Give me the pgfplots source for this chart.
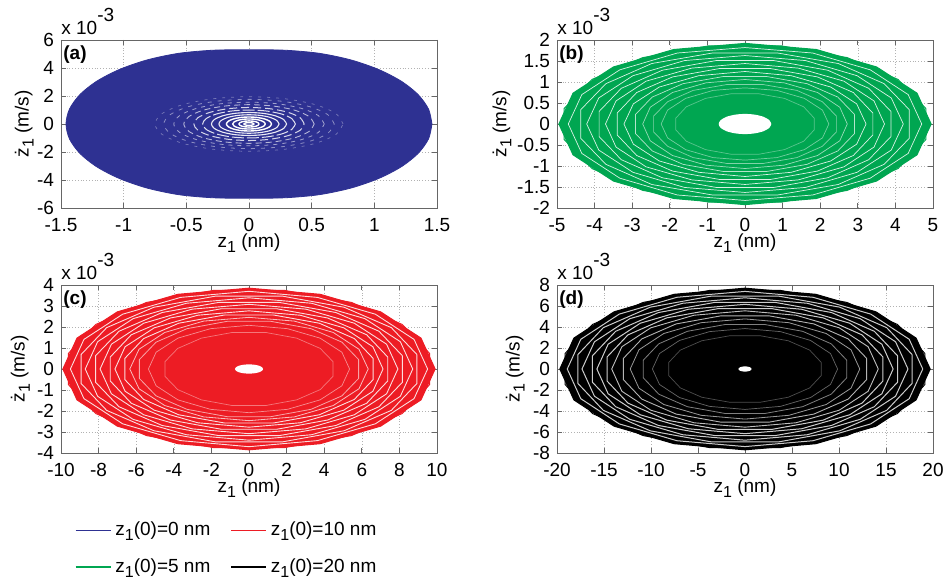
\documentclass[border=0pt]{standalone}
\usepackage{fontspec}
\setmainfont{Liberation Sans}
\usepackage{pgfplots}
\pgfplotsset{compat=1.18}
\definecolor{cblue}{RGB}{46,49,146}
\definecolor{cgreen}{RGB}{0,166,81}
\definecolor{cred}{RGB}{237,28,36}
\newcommand{\sone}{\raisebox{-0.5ex}{\footnotesize 1}}
\newcommand{\zsub}{z\sone}
\newcommand{\zdot}{ż\sone}
\newcommand{\fs}{\fontsize{9.5}{11}\selectfont}
\pgfplotsset{
  panel/.style={
    width=188pt, height=84pt, scale only axis,
    anchor=south west,
    tick align=inside,
    major tick length=2.5pt,
    grid=major,
    major grid style={densely dotted, black!30, line width=0.3pt},
    axis line style={black!60, line width=0.4pt},
    every tick/.style={black!60, line width=0.4pt},
    tick label style={font=\fs},
    xticklabel style={yshift=-1.5pt},
    label style={font=\fs},
    /pgf/number format/assume math mode=true,
    /pgf/number format/fixed,
    xlabel={\zsub\ (nm)},
    ylabel={\zdot\ (m/s)},
    xlabel style={at={(rel axis cs:0.5,-0.15)}, anchor=north, inner sep=0pt},
    ylabel style={anchor=south, inner sep=0pt},
  },
  wr/.style={draw=white, line width=0.35pt, opacity=0.85, forget plot, mark=none},
  hole/.style={draw=none, fill=white, forget plot, smooth, mark=none},
}
\begin{document}
\begin{tikzpicture}
\useasboundingbox (0,0) rectangle (473.5pt,292pt);
% ---------------- (a)
\begin{axis}[panel, name=pa, at={(30.5pt,188pt)},
  ylabel style={at={(rel axis cs:-0.072,0.5)}},
  xmin=-1.5, xmax=1.5, ymin=-6, ymax=6,
  xtick={-1.5,-1,-0.5,0,0.5,1,1.5}, ytick={-6,-4,-2,0,2,4,6}]
\addplot[draw=cblue, fill=cblue, smooth, forget plot, line width=0.4pt] coordinates {(1.46,0)(1.432,1.07)(1.349,2.10)(1.214,3.06)(1.032,3.90)(0.811,4.58)(0.559,5.05)(0.285,5.27)(0,5.3)(-0.285,5.27)(-0.559,5.05)(-0.811,4.58)(-1.032,3.90)(-1.214,3.06)(-1.349,2.10)(-1.432,1.07)(-1.46,0)(-1.432,-1.07)(-1.349,-2.10)(-1.214,-3.06)(-1.032,-3.90)(-0.811,-4.58)(-0.559,-5.05)(-0.285,-5.27)(0,-5.3)(0.285,-5.27)(0.559,-5.05)(0.811,-4.58)(1.032,-3.90)(1.214,-3.06)(1.349,-2.10)(1.432,-1.07)(1.46,0)};
\addplot[wr, smooth, line width=0.7pt, opacity=1] coordinates {(0.04,0)(0.037,0.038)(0.028,0.071)(0.015,0.092)(0,0.10)(-0.015,0.092)(-0.028,0.071)(-0.037,0.038)(-0.04,0)(-0.037,-0.038)(-0.028,-0.071)(-0.015,-0.092)(0,-0.10)(0.015,-0.092)(0.028,-0.071)(0.037,-0.038)(0.04,0)};
\addplot[wr, smooth, line width=0.7pt, opacity=1] coordinates {(0.08,0)(0.074,0.084)(0.057,0.156)(0.031,0.203)(0,0.22)(-0.031,0.203)(-0.057,0.156)(-0.074,0.084)(-0.08,0)(-0.074,-0.084)(-0.057,-0.156)(-0.031,-0.203)(0,-0.22)(0.031,-0.203)(0.057,-0.156)(0.074,-0.084)(0.08,0)};
\addplot[wr, smooth, line width=0.7pt, opacity=1] coordinates {(0.13,0)(0.12,0.138)(0.092,0.255)(0.05,0.333)(0,0.36)(-0.05,0.333)(-0.092,0.255)(-0.12,0.138)(-0.13,0)(-0.12,-0.138)(-0.092,-0.255)(-0.05,-0.333)(0,-0.36)(0.05,-0.333)(0.092,-0.255)(0.12,-0.138)(0.13,0)};
\addplot[wr, smooth, line width=0.7pt, opacity=1] coordinates {(0.18,0)(0.166,0.191)(0.127,0.354)(0.069,0.462)(0,0.5)(-0.069,0.462)(-0.127,0.354)(-0.166,0.191)(-0.18,0)(-0.166,-0.191)(-0.127,-0.354)(-0.069,-0.462)(0,-0.5)(0.069,-0.462)(0.127,-0.354)(0.166,-0.191)(0.18,0)};
\addplot[wr, smooth, line width=0.55pt, opacity=0.9] coordinates {(0.24,0)(0.222,0.253)(0.17,0.467)(0.092,0.61)(0,0.66)(-0.092,0.61)(-0.17,0.467)(-0.222,0.253)(-0.24,0)(-0.222,-0.253)(-0.17,-0.467)(-0.092,-0.61)(0,-0.66)(0.092,-0.61)(0.17,-0.467)(0.222,-0.253)(0.24,0)};
\addplot[wr, smooth, line width=0.55pt, opacity=0.9] coordinates {(0.3,0)(0.277,0.314)(0.212,0.58)(0.115,0.758)(0,0.82)(-0.115,0.758)(-0.212,0.58)(-0.277,0.314)(-0.3,0)(-0.277,-0.314)(-0.212,-0.58)(-0.115,-0.758)(0,-0.82)(0.115,-0.758)(0.212,-0.58)(0.277,-0.314)(0.3,0)};
\addplot[wr, smooth, line width=0.5pt, opacity=0.85, dash pattern=on 6pt off 1.5pt] coordinates {(0.37,0)(0.342,0.383)(0.262,0.707)(0.142,0.924)(0,1)(-0.142,0.924)(-0.262,0.707)(-0.342,0.383)(-0.37,0)(-0.342,-0.383)(-0.262,-0.707)(-0.142,-0.924)(0,-1)(0.142,-0.924)(0.262,-0.707)(0.342,-0.383)(0.37,0)};
\addplot[wr, smooth, line width=0.5pt, opacity=0.8, dash pattern=on 4pt off 2pt] coordinates {(0.44,0)(0.407,0.452)(0.311,0.834)(0.168,1.09)(0,1.18)(-0.168,1.09)(-0.311,0.834)(-0.407,0.452)(-0.44,0)(-0.407,-0.452)(-0.311,-0.834)(-0.168,-1.09)(0,-1.18)(0.168,-1.09)(0.311,-0.834)(0.407,-0.452)(0.44,0)};
\addplot[wr, smooth, line width=0.45pt, opacity=0.65, dash pattern=on 3pt off 2pt] coordinates {(0.52,0)(0.48,0.528)(0.368,0.976)(0.199,1.275)(0,1.38)(-0.199,1.275)(-0.368,0.976)(-0.48,0.528)(-0.52,0)(-0.48,-0.528)(-0.368,-0.976)(-0.199,-1.275)(0,-1.38)(0.199,-1.275)(0.368,-0.976)(0.48,-0.528)(0.52,0)};
\addplot[wr, smooth, line width=0.4pt, opacity=0.55, dash pattern=on 2pt off 2.5pt] coordinates {(0.6,0)(0.554,0.597)(0.424,1.103)(0.23,1.441)(0,1.56)(-0.23,1.441)(-0.424,1.103)(-0.554,0.597)(-0.6,0)(-0.554,-0.597)(-0.424,-1.103)(-0.23,-1.441)(0,-1.56)(0.23,-1.441)(0.424,-1.103)(0.554,-0.597)(0.6,0)};
\addplot[wr, smooth, line width=0.4pt, opacity=0.45, dash pattern=on 2pt off 3pt] coordinates {(0.68,0)(0.628,0.674)(0.481,1.245)(0.26,1.626)(0,1.76)(-0.26,1.626)(-0.481,1.245)(-0.628,0.674)(-0.68,0)(-0.628,-0.674)(-0.481,-1.245)(-0.26,-1.626)(0,-1.76)(0.26,-1.626)(0.481,-1.245)(0.628,-0.674)(0.68,0)};
\addplot[wr, smooth, line width=0.35pt, opacity=0.35, dash pattern=on 1.5pt off 3pt] coordinates {(0.75,0)(0.693,0.746)(0.53,1.379)(0.287,1.802)(0,1.95)(-0.287,1.802)(-0.53,1.379)(-0.693,0.746)(-0.75,0)(-0.693,-0.746)(-0.53,-1.379)(-0.287,-1.802)(0,-1.95)(0.287,-1.802)(0.53,-1.379)(0.693,-0.746)(0.75,0)};
\end{axis}
% ---------------- (b)
\begin{axis}[panel, name=pb, at={(278.5pt,188pt)},
  ylabel style={at={(rel axis cs:-0.120,0.5)}},
  xmin=-5, xmax=5, ymin=-2, ymax=2,
  xtick={-5,-4,-3,-2,-1,0,1,2,3,4,5}, ytick={-2,-1.5,-1,-0.5,0,0.5,1,1.5,2}]
\addplot[draw=cgreen, fill=cgreen, forget plot, line width=0.5pt] coordinates {(4.95,0)(4.573,0.735)(3.5,1.358)(1.894,1.774)(0,1.92)(-1.894,1.774)(-3.5,1.358)(-4.573,0.735)(-4.95,0)(-4.573,-0.735)(-3.5,-1.358)(-1.894,-1.774)(0,-1.92)(1.894,-1.774)(3.5,-1.358)(4.573,-0.735)(4.95,0)};
\addplot[draw=cgreen, forget plot, line width=0.5pt] coordinates {(4.81,0.37)(4.07,1.06)(2.72,1.58)(0.96,1.86)(-0.96,1.86)(-2.72,1.58)(-4.07,1.06)(-4.81,0.37)(-4.81,-0.37)(-4.07,-1.06)(-2.72,-1.58)(-0.96,-1.86)(0.96,-1.86)(2.72,-1.58)(4.07,-1.06)(4.81,-0.37)(4.81,0.37)};
\addplot[wr] coordinates {(4.70,0)(4.34,0.70)(3.33,1.29)(1.80,1.69)(0,1.82)(-1.80,1.69)(-3.33,1.29)(-4.34,0.70)(-4.70,0)(-4.34,-0.70)(-3.33,-1.29)(-1.80,-1.69)(0,-1.82)(1.80,-1.69)(3.33,-1.29)(4.34,-0.70)(4.70,0)};
\addplot[wr] coordinates {(4.37,0.34)(3.70,0.96)(2.48,1.44)(0.87,1.69)(-0.87,1.69)(-2.48,1.44)(-3.70,0.96)(-4.37,0.34)(-4.37,-0.34)(-3.70,-0.96)(-2.48,-1.44)(-0.87,-1.69)(0.87,-1.69)(2.48,-1.44)(3.70,-0.96)(4.37,-0.34)(4.37,0.34)};
\addplot[wr] coordinates {(4.21,0)(3.89,0.62)(2.98,1.15)(1.61,1.51)(0,1.63)(-1.61,1.51)(-2.98,1.15)(-3.89,0.62)(-4.21,0)(-3.89,-0.62)(-2.98,-1.15)(-1.61,-1.51)(0,-1.63)(1.61,-1.51)(2.98,-1.15)(3.89,-0.62)(4.21,0)};
\addplot[wr] coordinates {(3.88,0.30)(3.29,0.85)(2.20,1.28)(0.77,1.51)(-0.77,1.51)(-2.20,1.28)(-3.29,0.85)(-3.88,0.30)(-3.88,-0.30)(-3.29,-0.85)(-2.20,-1.28)(-0.77,-1.51)(0.77,-1.51)(2.20,-1.28)(3.29,-0.85)(3.88,-0.30)(3.88,0.30)};
\addplot[wr] coordinates {(3.71,0)(3.43,0.55)(2.63,1.02)(1.42,1.33)(0,1.44)(-1.42,1.33)(-2.63,1.02)(-3.43,0.55)(-3.71,0)(-3.43,-0.55)(-2.63,-1.02)(-1.42,-1.33)(0,-1.44)(1.42,-1.33)(2.63,-1.02)(3.43,-0.55)(3.71,0)};
\addplot[wr] coordinates {(3.40,0.26)(2.88,0.75)(1.93,1.12)(0.68,1.32)(-0.68,1.32)(-1.93,1.12)(-2.88,0.75)(-3.40,0.26)(-3.40,-0.26)(-2.88,-0.75)(-1.93,-1.12)(-0.68,-1.32)(0.68,-1.32)(1.93,-1.12)(2.88,-0.75)(3.40,-0.26)(3.40,0.26)};
\addplot[wr] coordinates {(3.22,0)(2.97,0.48)(2.28,0.88)(1.23,1.15)(0,1.25)(-1.23,1.15)(-2.28,0.88)(-2.97,0.48)(-3.22,0)(-2.97,-0.48)(-2.28,-0.88)(-1.23,-1.15)(0,-1.25)(1.23,-1.15)(2.28,-0.88)(2.97,-0.48)(3.22,0)};
\addplot[wr, opacity=0.7] coordinates {(2.91,0.23)(2.47,0.64)(1.65,0.96)(0.58,1.13)(-0.58,1.13)(-1.65,0.96)(-2.47,0.64)(-2.91,0.23)(-2.91,-0.23)(-2.47,-0.64)(-1.65,-0.96)(-0.58,-1.13)(0.58,-1.13)(1.65,-0.96)(2.47,-0.64)(2.91,-0.23)(2.91,0.23)};
\addplot[wr, opacity=0.6] coordinates {(2.72,0)(2.52,0.40)(1.93,0.75)(1.04,0.98)(0,1.06)(-1.04,0.98)(-1.93,0.75)(-2.52,0.40)(-2.72,0)(-2.52,-0.40)(-1.93,-0.75)(-1.04,-0.98)(0,-1.06)(1.04,-0.98)(1.93,-0.75)(2.52,-0.40)(2.72,0)};
\addplot[wr, opacity=0.5] coordinates {(2.43,0.19)(2.06,0.53)(1.38,0.80)(0.48,0.94)(-0.48,0.94)(-1.38,0.80)(-2.06,0.53)(-2.43,0.19)(-2.43,-0.19)(-2.06,-0.53)(-1.38,-0.80)(-0.48,-0.94)(0.48,-0.94)(1.38,-0.80)(2.06,-0.53)(2.43,-0.19)(2.43,0.19)};
\addplot[wr, opacity=0.45] coordinates {(2.23,0)(2.06,0.33)(1.58,0.61)(0.85,0.80)(0,0.86)(-0.85,0.80)(-1.58,0.61)(-2.06,0.33)(-2.23,0)(-2.06,-0.33)(-1.58,-0.61)(-0.85,-0.80)(0,-0.86)(0.85,-0.80)(1.58,-0.61)(2.06,-0.33)(2.23,0)};
\addplot[wr, opacity=0.35] coordinates {(1.84,0.14)(1.56,0.41)(1.05,0.61)(0.37,0.72)(-0.37,0.72)(-1.05,0.61)(-1.56,0.41)(-1.84,0.14)(-1.84,-0.14)(-1.56,-0.41)(-1.05,-0.61)(-0.37,-0.72)(0.37,-0.72)(1.05,-0.61)(1.56,-0.41)(1.84,-0.14)(1.84,0.14)};
\addplot[hole] coordinates {(0.70,0)(0.647,0.092)(0.495,0.170)(0.268,0.222)(0,0.24)(-0.268,0.222)(-0.495,0.170)(-0.647,0.092)(-0.70,0)(-0.647,-0.092)(-0.495,-0.170)(-0.268,-0.222)(0,-0.24)(0.268,-0.222)(0.495,-0.170)(0.647,-0.092)(0.70,0)};
\end{axis}
% ---------------- (c)
\begin{axis}[panel, name=pc, at={(30.5pt,65.5pt)},
  ylabel style={at={(rel axis cs:-0.082,0.5)}},
  xmin=-10, xmax=10, ymin=-4, ymax=4,
  xtick={-10,-8,-6,-4,-2,0,2,4,6,8,10}, ytick={-4,-3,-2,-1,0,1,2,3,4},
  legend columns=2, legend cell align=left,
  legend style={draw=none, fill=none, at={(rel axis cs:0.02,-0.36)}, anchor=north west,
    font=\fs, row sep=6pt, /tikz/every even column/.append style={column sep=8pt}},
  legend image code/.code={\draw[#1] (0pt,0pt) -- (17.5pt,0pt);}]
\addplot[draw=cred, fill=cred, forget plot, line width=0.5pt] coordinates {(9.9,0)(9.147,1.473)(7.0,2.722)(3.789,3.557)(0,3.85)(-3.789,3.557)(-7.0,2.722)(-9.147,1.473)(-9.9,0)(-9.147,-1.473)(-7.0,-2.722)(-3.789,-3.557)(0,-3.85)(3.789,-3.557)(7.0,-2.722)(9.147,-1.473)(9.9,0)};
\addplot[draw=cred, forget plot, line width=0.5pt] coordinates {(9.61,0.74)(8.15,2.12)(5.45,3.17)(1.91,3.74)(-1.91,3.74)(-5.45,3.17)(-8.15,2.12)(-9.61,0.74)(-9.61,-0.74)(-8.15,-2.12)(-5.45,-3.17)(-1.91,-3.74)(1.91,-3.74)(5.45,-3.17)(8.15,-2.12)(9.61,-0.74)(9.61,0.74)};
\addplot[wr, line width=0.45pt] coordinates {(9.50,0)(8.78,1.41)(6.72,2.61)(3.64,3.41)(0,3.70)(-3.64,3.41)(-6.72,2.61)(-8.78,1.41)(-9.50,0)(-8.78,-1.41)(-6.72,-2.61)(-3.64,-3.41)(0,-3.70)(3.64,-3.41)(6.72,-2.61)(8.78,-1.41)(9.50,0)};
\addplot[wr, line width=0.45pt] coordinates {(8.93,0.69)(7.57,1.97)(5.06,2.94)(1.78,3.47)(-1.78,3.47)(-5.06,2.94)(-7.57,1.97)(-8.93,0.69)(-8.93,-0.69)(-7.57,-1.97)(-5.06,-2.94)(-1.78,-3.47)(1.78,-3.47)(5.06,-2.94)(7.57,-1.97)(8.93,-0.69)(8.93,0.69)};
\addplot[wr, line width=0.45pt] coordinates {(8.71,0)(8.05,1.30)(6.16,2.40)(3.33,3.13)(0,3.39)(-3.33,3.13)(-6.16,2.40)(-8.05,1.30)(-8.71,0)(-8.05,-1.30)(-6.16,-2.40)(-3.33,-3.13)(0,-3.39)(3.33,-3.13)(6.16,-2.40)(8.05,-1.30)(8.71,0)};
\addplot[wr, line width=0.45pt] coordinates {(8.16,0.63)(6.91,1.80)(4.62,2.69)(1.62,3.17)(-1.62,3.17)(-4.62,2.69)(-6.91,1.80)(-8.16,0.63)(-8.16,-0.63)(-6.91,-1.80)(-4.62,-2.69)(-1.62,-3.17)(1.62,-3.17)(4.62,-2.69)(6.91,-1.80)(8.16,-0.63)(8.16,0.63)};
\addplot[wr, line width=0.45pt] coordinates {(7.92,0)(7.32,1.18)(5.60,2.18)(3.03,2.85)(0,3.08)(-3.03,2.85)(-5.60,2.18)(-7.32,1.18)(-7.92,0)(-7.32,-1.18)(-5.60,-2.18)(-3.03,-2.85)(0,-3.08)(3.03,-2.85)(5.60,-2.18)(7.32,-1.18)(7.92,0)};
\addplot[wr, line width=0.45pt] coordinates {(7.38,0.57)(6.26,1.63)(4.18,2.43)(1.47,2.87)(-1.47,2.87)(-4.18,2.43)(-6.26,1.63)(-7.38,0.57)(-7.38,-0.57)(-6.26,-1.63)(-4.18,-2.43)(-1.47,-2.87)(1.47,-2.87)(4.18,-2.43)(6.26,-1.63)(7.38,-0.57)(7.38,0.57)};
\addplot[wr, line width=0.45pt] coordinates {(7.13,0)(6.59,1.06)(5.04,1.96)(2.73,2.56)(0,2.77)(-2.73,2.56)(-5.04,1.96)(-6.59,1.06)(-7.13,0)(-6.59,-1.06)(-5.04,-1.96)(-2.73,-2.56)(0,-2.77)(2.73,-2.56)(5.04,-1.96)(6.59,-1.06)(7.13,0)};
\addplot[wr, line width=0.45pt] coordinates {(6.60,0.51)(5.60,1.45)(3.74,2.18)(1.31,2.57)(-1.31,2.57)(-3.74,2.18)(-5.60,1.45)(-6.60,0.51)(-6.60,-0.51)(-5.60,-1.45)(-3.74,-2.18)(-1.31,-2.57)(1.31,-2.57)(3.74,-2.18)(5.60,-1.45)(6.60,-0.51)(6.60,0.51)};
\addplot[wr, line width=0.4pt, opacity=0.7] coordinates {(6.34,0)(5.85,0.94)(4.48,1.74)(2.42,2.28)(0,2.46)(-2.42,2.28)(-4.48,1.74)(-5.85,0.94)(-6.34,0)(-5.85,-0.94)(-4.48,-1.74)(-2.42,-2.28)(0,-2.46)(2.42,-2.28)(4.48,-1.74)(5.85,-0.94)(6.34,0)};
\addplot[wr, line width=0.4pt, opacity=0.6] coordinates {(5.83,0.45)(4.94,1.28)(3.30,1.92)(1.16,2.27)(-1.16,2.27)(-3.30,1.92)(-4.94,1.28)(-5.83,0.45)(-5.83,-0.45)(-4.94,-1.28)(-3.30,-1.92)(-1.16,-2.27)(1.16,-2.27)(3.30,-1.92)(4.94,-1.28)(5.83,-0.45)(5.83,0.45)};
\addplot[wr, line width=0.35pt, opacity=0.5] coordinates {(5.35,0)(4.94,0.80)(3.78,1.47)(2.05,1.92)(0,2.08)(-2.05,1.92)(-3.78,1.47)(-4.94,0.80)(-5.35,0)(-4.94,-0.80)(-3.78,-1.47)(-2.05,-1.92)(0,-2.08)(2.05,-1.92)(3.78,-1.47)(4.94,-0.80)(5.35,0)};
\addplot[wr, line width=0.35pt, opacity=0.4] coordinates {(4.47,0.35)(3.79,0.98)(2.53,1.47)(0.89,1.74)(-0.89,1.74)(-2.53,1.47)(-3.79,0.98)(-4.47,0.35)(-4.47,-0.35)(-3.79,-0.98)(-2.53,-1.47)(-0.89,-1.74)(0.89,-1.74)(2.53,-1.47)(3.79,-0.98)(4.47,-0.35)(4.47,0.35)};
\addplot[hole] coordinates {(0.75,0)(0.693,0.084)(0.530,0.156)(0.287,0.203)(0,0.22)(-0.287,0.203)(-0.530,0.156)(-0.693,0.084)(-0.75,0)(-0.693,-0.084)(-0.530,-0.156)(-0.287,-0.203)(0,-0.22)(0.287,-0.203)(0.530,-0.156)(0.693,-0.084)(0.75,0)};
\addlegendimage{draw=cblue, line width=0.75pt}\addlegendentry{\zsub(0)=0 nm}
\addlegendimage{draw=cred, line width=0.75pt}\addlegendentry{\zsub(0)=10 nm}
\addlegendimage{draw=cgreen, line width=0.75pt}\addlegendentry{\zsub(0)=5 nm}
\addlegendimage{draw=black, line width=0.75pt}\addlegendentry{\zsub(0)=20 nm}
\end{axis}
% ---------------- (d)
\begin{axis}[panel, name=pd, at={(278.5pt,65.5pt)},
  ylabel style={at={(rel axis cs:-0.085,0.5)}},
  xmin=-20, xmax=20, ymin=-8, ymax=8,
  xtick={-20,-15,-10,-5,0,5,10,15,20}, ytick={-8,-6,-4,-2,0,2,4,6,8}]
\addplot[draw=black, fill=black, forget plot, line width=0.5pt] coordinates {(19.7,0)(18.20,2.947)(13.93,5.445)(7.54,7.114)(0,7.7)(-7.54,7.114)(-13.93,5.445)(-18.20,2.947)(-19.7,0)(-18.20,-2.947)(-13.93,-5.445)(-7.54,-7.114)(0,-7.7)(7.54,-7.114)(13.93,-5.445)(18.20,-2.947)(19.7,0)};
\addplot[draw=black, forget plot, line width=0.5pt] coordinates {(19.13,1.49)(16.22,4.24)(10.84,6.34)(3.80,7.48)(-3.80,7.48)(-10.84,6.34)(-16.22,4.24)(-19.13,1.49)(-19.13,-1.49)(-16.22,-4.24)(-10.84,-6.34)(-3.80,-7.48)(3.80,-7.48)(10.84,-6.34)(16.22,-4.24)(19.13,-1.49)(19.13,1.49)};
\addplot[wr, line width=0.5pt, opacity=0.8] coordinates {(18.91,0)(17.47,2.83)(13.37,5.23)(7.24,6.83)(0,7.39)(-7.24,6.83)(-13.37,5.23)(-17.47,2.83)(-18.91,0)(-17.47,-2.83)(-13.37,-5.23)(-7.24,-6.83)(0,-7.39)(7.24,-6.83)(13.37,-5.23)(17.47,-2.83)(18.91,0)};
\addplot[wr, line width=0.5pt, opacity=0.8] coordinates {(17.77,1.38)(15.07,3.94)(10.07,5.89)(3.54,6.95)(-3.54,6.95)(-10.07,5.89)(-15.07,3.94)(-17.77,1.38)(-17.77,-1.38)(-15.07,-3.94)(-10.07,-5.89)(-3.54,-6.95)(3.54,-6.95)(10.07,-5.89)(15.07,-3.94)(17.77,-1.38)(17.77,1.38)};
\addplot[wr, line width=0.5pt, opacity=0.8] coordinates {(17.34,0)(16.02,2.59)(12.26,4.79)(6.63,6.26)(0,6.78)(-6.63,6.26)(-12.26,4.79)(-16.02,2.59)(-17.34,0)(-16.02,-2.59)(-12.26,-4.79)(-6.63,-6.26)(0,-6.78)(6.63,-6.26)(12.26,-4.79)(16.02,-2.59)(17.34,0)};
\addplot[wr, line width=0.5pt, opacity=0.8] coordinates {(16.23,1.26)(13.76,3.59)(9.20,5.38)(3.23,6.34)(-3.23,6.34)(-9.20,5.38)(-13.76,3.59)(-16.23,1.26)(-16.23,-1.26)(-13.76,-3.59)(-9.20,-5.38)(-3.23,-6.34)(3.23,-6.34)(9.20,-5.38)(13.76,-3.59)(16.23,-1.26)(16.23,1.26)};
\addplot[wr, line width=0.5pt, opacity=0.8] coordinates {(15.76,0)(14.56,2.36)(11.14,4.36)(6.03,5.69)(0,6.16)(-6.03,5.69)(-11.14,4.36)(-14.56,2.36)(-15.76,0)(-14.56,-2.36)(-11.14,-4.36)(-6.03,-5.69)(0,-6.16)(6.03,-5.69)(11.14,-4.36)(14.56,-2.36)(15.76,0)};
\addplot[wr, line width=0.5pt, opacity=0.8] coordinates {(14.68,1.14)(12.45,3.25)(8.32,4.87)(2.92,5.74)(-2.92,5.74)(-8.32,4.87)(-12.45,3.25)(-14.68,1.14)(-14.68,-1.14)(-12.45,-3.25)(-8.32,-4.87)(-2.92,-5.74)(2.92,-5.74)(8.32,-4.87)(12.45,-3.25)(14.68,-1.14)(14.68,1.14)};
\addplot[wr, line width=0.45pt, opacity=0.75] coordinates {(14.18,0)(13.10,2.12)(10.03,3.92)(5.43,5.12)(0,5.54)(-5.43,5.12)(-10.03,3.92)(-13.10,2.12)(-14.18,0)(-13.10,-2.12)(-10.03,-3.92)(-5.43,-5.12)(0,-5.54)(5.43,-5.12)(10.03,-3.92)(13.10,-2.12)(14.18,0)};
\addplot[wr, line width=0.45pt, opacity=0.7] coordinates {(12.94,1.01)(10.97,2.87)(7.34,4.29)(2.57,5.06)(-2.57,5.06)(-7.34,4.29)(-10.97,2.87)(-12.94,1.01)(-12.94,-1.01)(-10.97,-2.87)(-7.34,-4.29)(-2.57,-5.06)(2.57,-5.06)(7.34,-4.29)(10.97,-2.87)(12.94,-1.01)(12.94,1.01)};
\addplot[wr, line width=0.4pt, opacity=0.6] coordinates {(12.21,0)(11.28,1.83)(8.64,3.38)(4.67,4.41)(0,4.77)(-4.67,4.41)(-8.64,3.38)(-11.28,1.83)(-12.21,0)(-11.28,-1.83)(-8.64,-3.38)(-4.67,-4.41)(0,-4.77)(4.67,-4.41)(8.64,-3.38)(11.28,-1.83)(12.21,0)};
\addplot[wr, line width=0.4pt, opacity=0.5] coordinates {(10.82,0.84)(9.17,2.40)(6.13,3.59)(2.15,4.23)(-2.15,4.23)(-6.13,3.59)(-9.17,2.40)(-10.82,0.84)(-10.82,-0.84)(-9.17,-2.40)(-6.13,-3.59)(-2.15,-4.23)(2.15,-4.23)(6.13,-3.59)(9.17,-2.40)(10.82,-0.84)(10.82,0.84)};
\addplot[wr, line width=0.35pt, opacity=0.4] coordinates {(9.85,0)(9.10,1.47)(6.97,2.72)(3.77,3.56)(0,3.85)(-3.77,3.56)(-6.97,2.72)(-9.10,1.47)(-9.85,0)(-9.10,-1.47)(-6.97,-2.72)(-3.77,-3.56)(0,-3.85)(3.77,-3.56)(6.97,-2.72)(9.10,-1.47)(9.85,0)};
\addplot[wr, line width=0.35pt, opacity=0.3] coordinates {(8.11,0.63)(6.88,1.80)(4.60,2.69)(1.61,3.17)(-1.61,3.17)(-4.60,2.69)(-6.88,1.80)(-8.11,0.63)(-8.11,-0.63)(-6.88,-1.80)(-4.60,-2.69)(-1.61,-3.17)(1.61,-3.17)(4.60,-2.69)(6.88,-1.80)(8.11,-0.63)(8.11,0.63)};
\addplot[hole] coordinates {(0.70,0)(0.647,0.096)(0.495,0.177)(0.268,0.231)(0,0.25)(-0.268,0.231)(-0.495,0.177)(-0.647,0.096)(-0.70,0)(-0.647,-0.096)(-0.495,-0.177)(-0.268,-0.231)(0,-0.25)(0.268,-0.231)(0.495,-0.177)(0.647,-0.096)(0.70,0)};
\end{axis}
% ---------------- annotations
\foreach \p/\l in {pa/a,pb/b,pc/c,pd/d}{
  \node[anchor=south west, inner sep=0pt, font=\fs] at ([yshift=2.5pt]\p.north west) {x 10\raisebox{6.5pt}{-3}};
  \node[anchor=north west, inner sep=0pt, font=\fs\bfseries] at ([xshift=1pt,yshift=-2.5pt]\p.north west) {(\l)};
}
\end{tikzpicture}
\end{document}
